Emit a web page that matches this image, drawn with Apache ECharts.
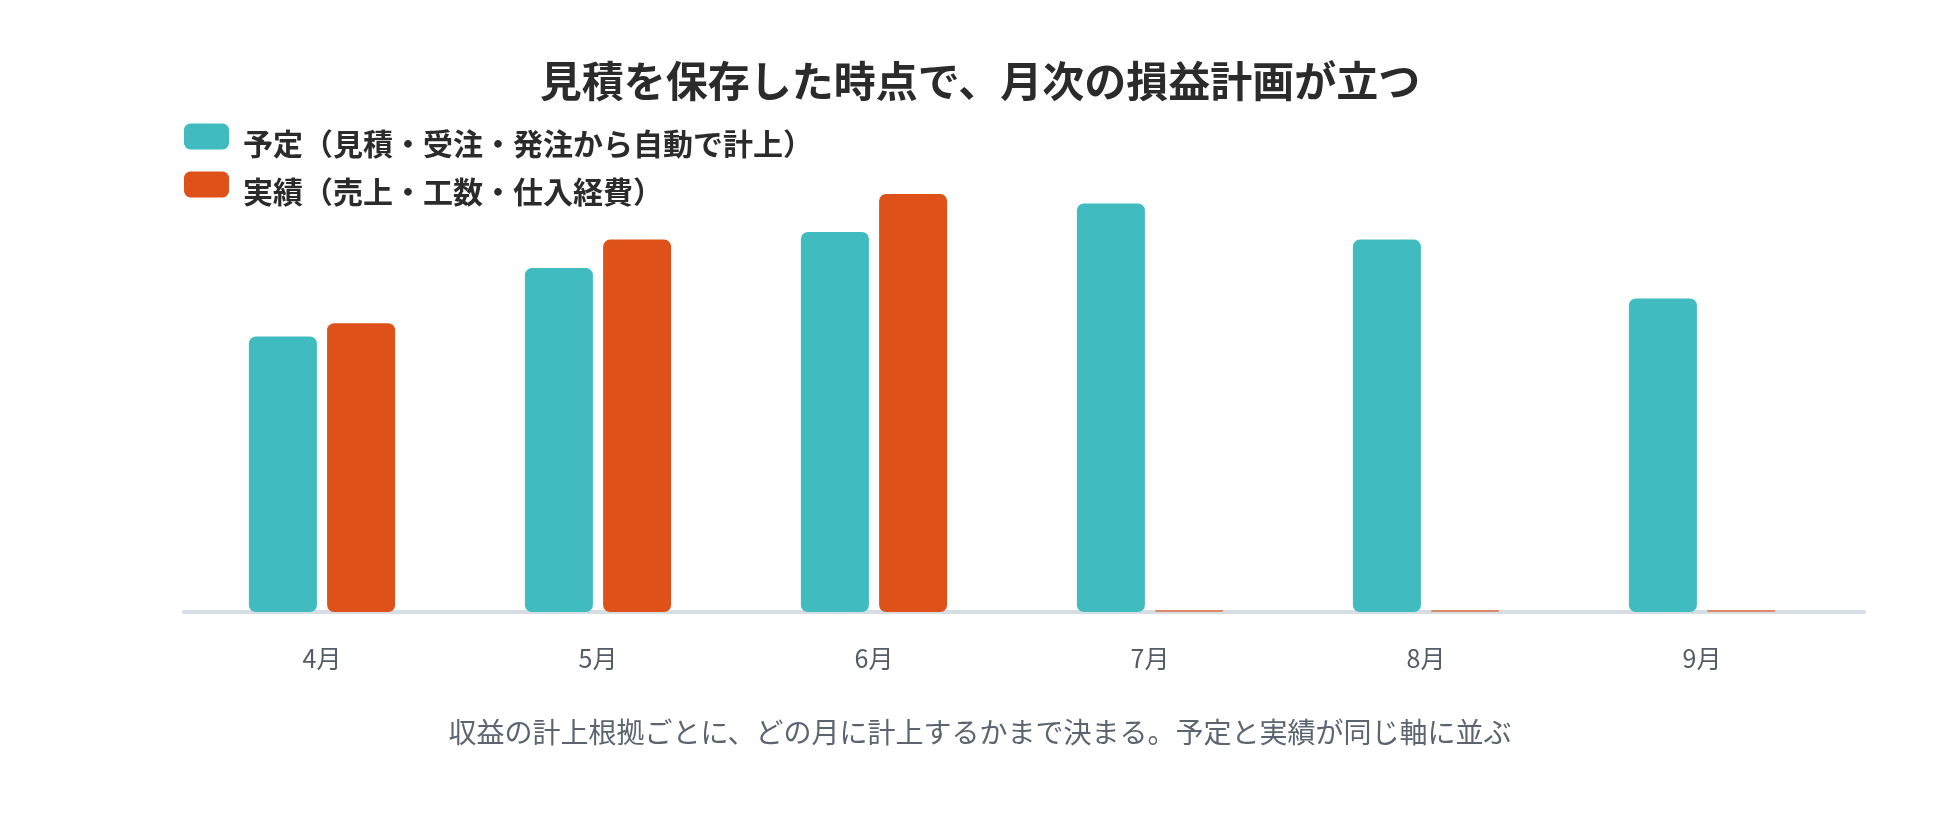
<!DOCTYPE html>
<html>
<head>
<meta charset="utf-8">
<script src="https://cdn.jsdelivr.net/npm/echarts@6/dist/echarts.min.js"></script>
<style>
html,body{margin:0;padding:0;background:#fff;}
#chart{width:1960px;height:828px;}
</style>
</head>
<body>
<div id="chart"></div>
<script>
const titleText = '見積を保存した時点で、月次の損益計画が立つ';
const subText = '収益の計上根拠ごとに、どの月に計上するかまで決まる。予定と実績が同じ軸に並ぶ';
const months = ['4月', '5月', '6月', '7月', '8月', '9月'];
const planName = '予定（見積・受注・発注から自動で計上）';
const actualName = '実績（売上・工数・仕入経費）';
const planValues = [725, 905, 1000, 1075, 980, 825];
const actualValues = [760, 980, 1100, 0, 0, 0];

const FONT = '"Noto Sans CJK JP", "Noto Sans", sans-serif';
const chart = echarts.init(document.getElementById('chart'), null, {renderer: 'canvas'});
chart.setOption({
  backgroundColor: '#ffffff',
  animation: false,
  title: [
    {
      text: titleText,
      left: 'center',
      top: 55,
      textStyle: {fontFamily: FONT, fontSize: 42, fontWeight: 'bold', color: '#2b2b2b'}
    },
    {
      text: subText,
      left: 'center',
      top: 713,
      textStyle: {fontFamily: FONT, fontSize: 28, fontWeight: 'normal', color: '#5b6470'}
    }
  ],
  legend: {
    orient: 'vertical',
    left: 184,
    top: 114,
    padding: 0,
    itemWidth: 45,
    itemHeight: 26,
    itemGap: 3,
    icon: 'roundRect',
    formatter: '{t|{name}}',
    textStyle: {
      fontFamily: FONT, fontSize: 30, fontWeight: 'bold', color: '#2b2b2b',
      rich: {
        t: {fontFamily: FONT, fontSize: 30, fontWeight: 'bold', color: '#2b2b2b', lineHeight: 30, padding: [15, 0, 0, 9]}
      }
    },
    data: [planName, actualName]
  },
  grid: [
    {left: 184, right: 120, top: 156, bottom: 216, containLabel: false},
    {left: 184, right: 96, top: 156, bottom: 216, containLabel: false}
  ],
  xAxis: [
    {
      type: 'category',
      gridIndex: 0,
      data: months,
      axisLine: {show: false},
      axisTick: {show: false},
      axisLabel: {fontFamily: FONT, fontSize: 25, color: '#555c66', margin: 34}
    },
    {
      type: 'value',
      gridIndex: 1,
      min: 0,
      max: 1,
      axisLine: {show: true, lineStyle: {color: '#d6dee4', width: 4}},
      axisTick: {show: false},
      axisLabel: {show: false},
      splitLine: {show: false},
      z: 0
    }
  ],
  yAxis: [
    {type: 'value', gridIndex: 0, min: 0, max: 1200, show: false, splitLine: {show: false}},
    {type: 'value', gridIndex: 1, min: 0, max: 1, show: false, splitLine: {show: false}}
  ],
  series: [
    {
      name: planName,
      type: 'bar',
      xAxisIndex: 0,
      yAxisIndex: 0,
      data: planValues,
      barWidth: 68,
      barGap: '15%',
      z: 3,
      itemStyle: {color: '#40bbc0', borderRadius: 7}
    },
    {
      name: actualName,
      type: 'bar',
      xAxisIndex: 0,
      yAxisIndex: 0,
      data: actualValues.map(v => v === 0 ? {value: v, itemStyle: {opacity: 0.6}} : v),
      barWidth: 68,
      barGap: '15%',
      barMinHeight: 2,
      z: 3,
      itemStyle: {color: '#de5119', borderRadius: 7}
    }
  ]
});
</script>
</body>
</html>
